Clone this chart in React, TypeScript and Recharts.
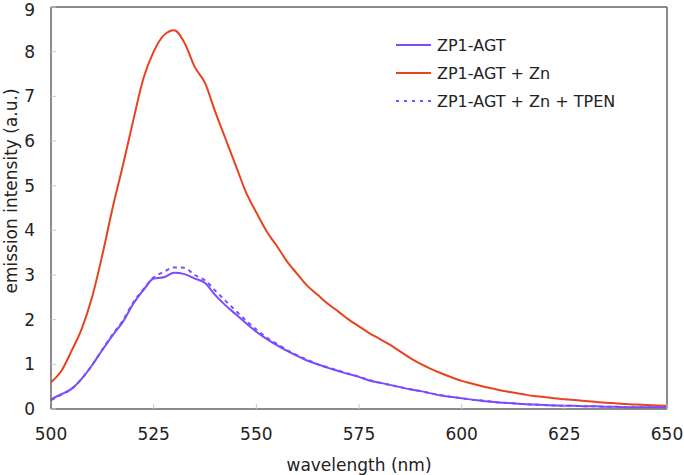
import React from "react";
import {
  Legend,
  Line,
  LineChart,
  ReferenceLine,
  XAxis,
  YAxis,
} from "recharts";

// wavelength grid, every 2.5 nm
const wavelengths = [
  500, 502.5, 505, 507.5, 510, 512.5, 515, 517.5, 520, 522.5, 525, 527.5, 530,
  532.5, 535, 537.5, 540, 542.5, 545, 547.5, 550, 552.5, 555, 557.5, 560,
  562.5, 565, 567.5, 570, 572.5, 575, 577.5, 580, 582.5, 585, 587.5, 590,
  592.5, 595, 597.5, 600, 602.5, 605, 607.5, 610, 612.5, 615, 617.5, 620,
  622.5, 625, 627.5, 630, 632.5, 635, 637.5, 640, 642.5, 645, 647.5, 650,
];

const agt = [
  0.22, 0.33, 0.45, 0.68, 0.98, 1.32, 1.65, 1.95, 2.35, 2.66, 2.92, 2.95, 3.05,
  3.02, 2.92, 2.82, 2.55, 2.32, 2.12, 1.92, 1.73, 1.57, 1.43, 1.3, 1.19, 1.08,
  1.0, 0.92, 0.85, 0.78, 0.72, 0.64, 0.59, 0.54, 0.49, 0.44, 0.4, 0.35, 0.3,
  0.27, 0.24, 0.21, 0.18, 0.16, 0.14, 0.13, 0.11, 0.1, 0.09, 0.08, 0.07, 0.07,
  0.06, 0.06, 0.05, 0.05, 0.04, 0.04, 0.04, 0.04, 0.04,
];

const agtZn = [
  0.6, 0.85, 1.3, 1.8, 2.5, 3.45, 4.5, 5.45, 6.45, 7.4, 8.0, 8.37, 8.48, 8.2,
  7.66, 7.3, 6.65, 6.05, 5.45, 4.85, 4.4, 3.98, 3.65, 3.3, 3.02, 2.75, 2.55,
  2.35, 2.18, 2.0, 1.85, 1.7, 1.57, 1.44, 1.29, 1.14, 1.01, 0.9, 0.8, 0.71,
  0.63, 0.57, 0.51, 0.46, 0.41, 0.37, 0.33, 0.29, 0.27, 0.24, 0.22, 0.2, 0.18,
  0.16, 0.14, 0.13, 0.11, 0.1, 0.09, 0.08, 0.07,
];

const agtZnTpen = [
  0.2, 0.32, 0.45, 0.68, 0.98, 1.33, 1.67, 1.98, 2.38, 2.68, 2.95, 3.07, 3.17,
  3.16, 3.0, 2.88, 2.65, 2.42, 2.2, 1.98, 1.78, 1.6, 1.46, 1.32, 1.2, 1.1, 1.0,
  0.93, 0.86, 0.79, 0.72, 0.65, 0.59, 0.54, 0.49, 0.44, 0.4, 0.35, 0.31, 0.27,
  0.24, 0.21, 0.19, 0.16, 0.14, 0.13, 0.11, 0.1, 0.09, 0.08, 0.07, 0.07, 0.06,
  0.06, 0.05, 0.05, 0.04, 0.04, 0.04, 0.04, 0.04,
];

const xTicks = [500, 525, 550, 575, 600, 625, 650];
const yTicks = [0, 1, 2, 3, 4, 5, 6, 7, 8, 9];

const PURPLE = "#7b4bff";
const RED = "#e8431e";
const AXIS = "#666666";
const FONT = "'DejaVu Sans', Verdana, sans-serif";

const data = wavelengths.map((wl, i) => ({
  wl,
  agt: agt[i],
  zn: agtZn[i],
  tpen: agtZnTpen[i],
}));

const legendItems = [
  { label: "ZP1-AGT", color: PURPLE, dash: undefined },
  { label: "ZP1-AGT + Zn", color: RED, dash: undefined },
  { label: "ZP1-AGT + Zn + TPEN", color: PURPLE, dash: "3 5" },
];

const LegendBox = () => (
  <svg width={260} height={90} style={{ overflow: "visible" }}>
    {legendItems.map((it, i) => (
      <g key={it.label} transform={`translate(0, ${i * 28})`}>
        <line
          x1={5}
          x2={40}
          y1={12}
          y2={12}
          stroke={it.color}
          strokeWidth={2}
          strokeDasharray={it.dash}
        />
        <text x={46} y={18} fontSize={16} fontFamily={FONT} fill="#222">
          {it.label}
        </text>
      </g>
    ))}
  </svg>
);

export default function App() {
  return (
    <div style={{ position: "absolute", left: 0, top: 0, background: "#fff" }}>
      <LineChart
        width={684}
        height={475}
        data={data}
        margin={{ top: 7, right: 17, left: 0, bottom: 6 }}
      >
        <XAxis
          dataKey="wl"
          type="number"
          domain={[500, 650]}
          ticks={xTicks}
          height={60}
          stroke={AXIS}
          strokeWidth={1.5}
          tickSize={-5}
          tickMargin={24}
          tickLine={{ stroke: "#c8c8c8", strokeWidth: 1 }}
          tick={{ fill: "#222", fontSize: 17, fontFamily: FONT }}
          label={{
            value: "wavelength (nm)",
            position: "insideBottom",
            offset: -2,
            fill: "#222",
            fontSize: 17,
            fontFamily: FONT,
          }}
        />
        <YAxis
          type="number"
          domain={[0, 9]}
          ticks={yTicks}
          width={51}
          stroke={AXIS}
          strokeWidth={1.5}
          tickSize={-5}
          tickMargin={21}
          tickLine={{ stroke: "#c8c8c8", strokeWidth: 1 }}
          tick={{ fill: "#222", fontSize: 17, fontFamily: FONT }}
          label={{
            value: "emission intensity (a.u.)",
            angle: -90,
            position: "insideLeft",
            offset: 11,
            dy: -17,
            fill: "#222",
            fontSize: 17,
            fontFamily: FONT,
            style: { textAnchor: "middle" },
          }}
        />
        <ReferenceLine y={9} stroke={AXIS} strokeWidth={1.5} />
        <ReferenceLine x={650} stroke={AXIS} strokeWidth={1.5} />
        <Legend
          layout="vertical"
          verticalAlign="middle"
          align="center"
          content={<LegendBox />}
          wrapperStyle={{ left: 391, top: 33, width: 260 }}
        />
        <Line
          dataKey="zn"
          stroke={RED}
          strokeWidth={2}
          dot={false}
          type="monotone"
          isAnimationActive={false}
        />
        <Line
          dataKey="tpen"
          stroke={PURPLE}
          strokeWidth={2}
          strokeDasharray="4 4"
          dot={false}
          type="monotone"
          isAnimationActive={false}
        />
        <Line
          dataKey="agt"
          stroke={PURPLE}
          strokeWidth={2}
          dot={false}
          type="monotone"
          isAnimationActive={false}
        />
      </LineChart>
    </div>
  );
}
